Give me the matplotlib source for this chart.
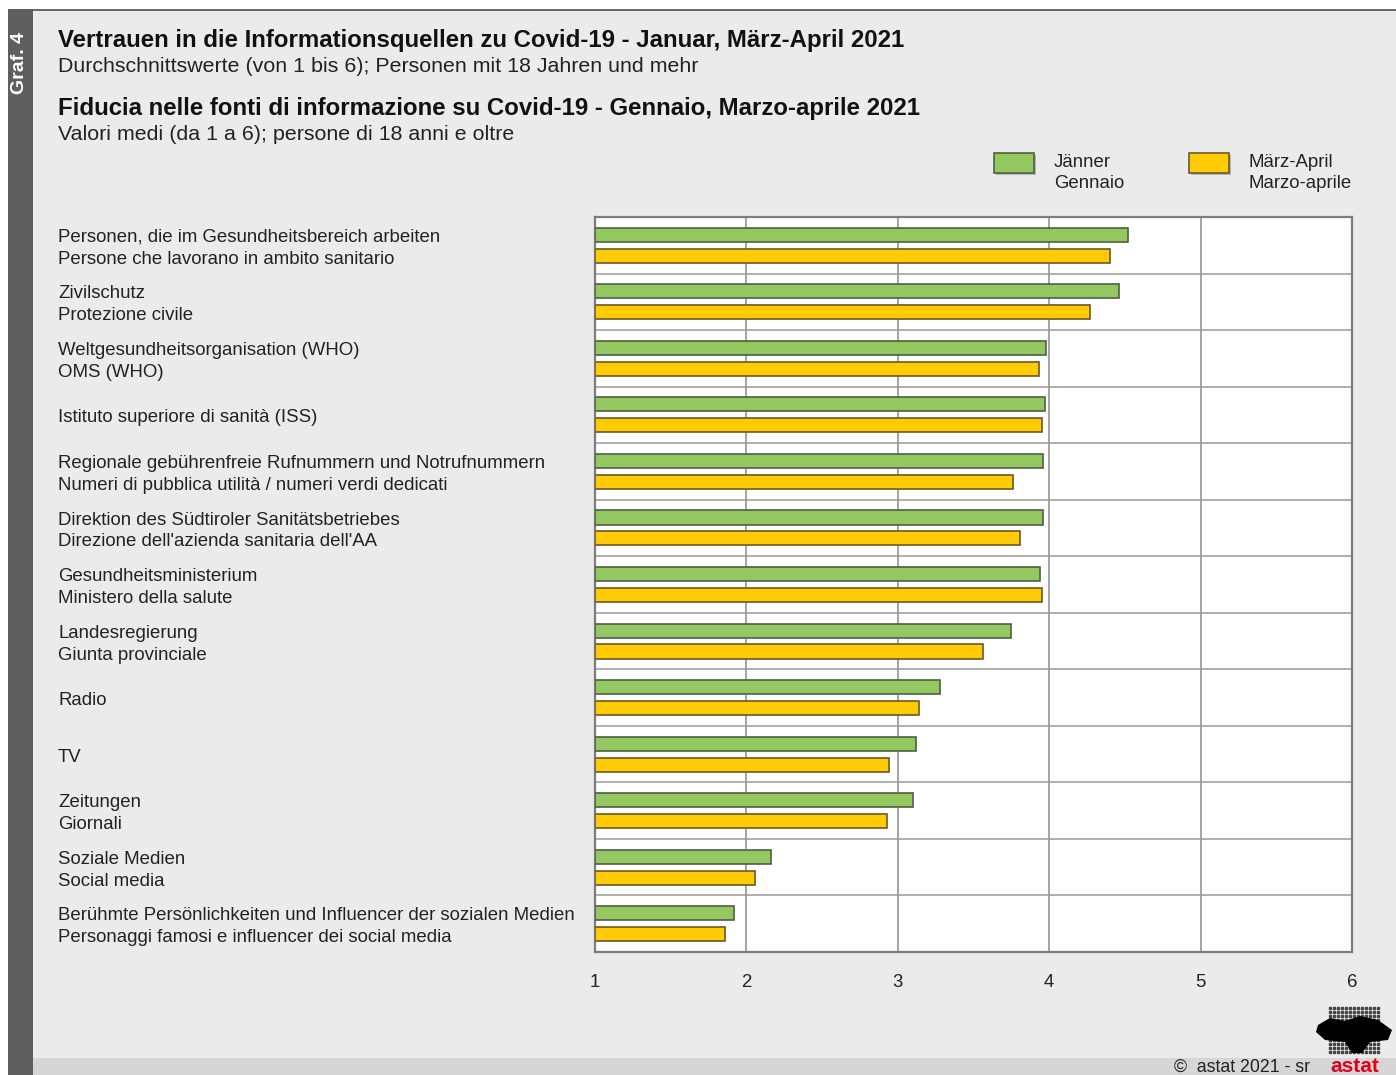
import matplotlib
matplotlib.use("Agg")
import matplotlib.pyplot as plt
from matplotlib.patches import Rectangle, Polygon
from matplotlib.transforms import offset_copy
import numpy as np

plt.rcParams['font.family'] = ['Liberation Sans', 'DejaVu Sans']

categories = [
    "Personen, die im Gesundheitsbereich arbeiten\nPersone che lavorano in ambito sanitario",
    "Zivilschutz\nProtezione civile",
    "Weltgesundheitsorganisation (WHO)\nOMS (WHO)",
    "Istituto superiore di sanità (ISS)",
    "Regionale gebührenfreie Rufnummern und Notrufnummern\nNumeri di pubblica utilità / numeri verdi dedicati",
    "Direktion des Südtiroler Sanitätsbetriebes\nDirezione dell'azienda sanitaria dell'AA",
    "Gesundheitsministerium\nMinistero della salute",
    "Landesregierung\nGiunta provinciale",
    "Radio",
    "TV",
    "Zeitungen\nGiornali",
    "Soziale Medien\nSocial media",
    "Berühmte Persönlichkeiten und Influencer der sozialen Medien\nPersonaggi famosi e influencer dei social media",
]
jan = [4.52, 4.46, 3.98, 3.97, 3.96, 3.96, 3.94, 3.75, 3.28, 3.12, 3.10, 2.16, 1.92]
mar_apr = [4.40, 4.27, 3.93, 3.95, 3.76, 3.81, 3.95, 3.56, 3.14, 2.94, 2.93, 2.06, 1.86]
series_labels = ["Jänner\nGennaio", "März-April\nMarzo-aprile"]
xticks = [1, 2, 3, 4, 5, 6]

W, H = 1396, 1075
fig = plt.figure(figsize=(W / 100, H / 100), dpi=100)
fig.patch.set_facecolor('white')

def fx(px):
    return px / W

def fy(py):
    return 1 - py / H

# background panels
fig.patches.append(Rectangle((fx(8), fy(1075)), fx(1396 - 8), (1075 - 9) / H,
                             transform=fig.transFigure, facecolor='#ebebeb', edgecolor='none', zorder=-3))
fig.patches.append(Rectangle((fx(8), fy(11)), fx(1396 - 8), 2 / H,
                             transform=fig.transFigure, facecolor='#6a6a6a', edgecolor='none', zorder=-2))
fig.patches.append(Rectangle((fx(8), fy(1075)), fx(25), (1075 - 9) / H,
                             transform=fig.transFigure, facecolor='#5f5f5f', edgecolor='none', zorder=-2))
fig.patches.append(Rectangle((fx(33), fy(1075)), fx(1396 - 33), 17 / H,
                             transform=fig.transFigure, facecolor='#d6d6d6', edgecolor='none', zorder=-2))
fig.text(fx(20), fy(63), "Graf. 4", rotation=90, color='white', fontsize=14,
         fontweight='bold', ha='center', va='center')

# titles
fig.text(fx(58), fy(41), "Vertrauen in die Informationsquellen zu Covid-19 - Januar, März-April 2021",
         fontsize=17.3, fontweight='bold', color='#111111', ha='left', va='center')
fig.text(fx(58), fy(67), "Durchschnittswerte (von 1 bis 6); Personen mit 18 Jahren und mehr",
         fontsize=15.4, color='#222222', ha='left', va='center')
fig.text(fx(58), fy(108), "Fiducia nelle fonti di informazione su Covid-19 - Gennaio, Marzo-aprile 2021",
         fontsize=17.3, fontweight='bold', color='#111111', ha='left', va='center')
fig.text(fx(58), fy(134), "Valori medi (da 1 a 6); persone di 18 anni e oltre",
         fontsize=15.4, color='#222222', ha='left', va='center')

green = '#92c85f'
yellow = '#ffcb05'
green_edge = '#4f5f45'
yellow_edge = '#6a5a2a'

# legend
for (px, col, ec, lab) in [(994, green, green_edge, series_labels[0]),
                           (1189, yellow, yellow_edge, series_labels[1])]:
    fig.patches.append(Rectangle((fx(px + 2), fy(175)), fx(40), 20 / H, transform=fig.transFigure,
                                 facecolor='#b5b5b5', edgecolor='none', zorder=-1))
    fig.patches.append(Rectangle((fx(px), fy(173)), fx(40), 20 / H, transform=fig.transFigure,
                                 facecolor=col, edgecolor=ec, linewidth=1.2, zorder=-1))
    fig.text(fx(px + 60), fy(173), lab, fontsize=13.4, color='#222222', ha='left', va='center',
             linespacing=1.38)

# axes
ax = fig.add_axes([fx(595), fy(952), fx(1352 - 595), (952 - 217) / H])
ax.set_zorder(2)
ax.set_facecolor('white')
n = len(categories)
y = np.arange(n)
h = 0.25
off = 0.185
ax.barh(y - off, [v - 1 for v in jan], left=1, height=h, color=green, edgecolor=green_edge,
        linewidth=1.2, zorder=3)
ax.barh(y + off, [v - 1 for v in mar_apr], left=1, height=h, color=yellow, edgecolor=yellow_edge,
        linewidth=1.2, zorder=3)
ax.set_xlim(1, 6)
ax.set_ylim(n - 0.5, -0.5)
for xv in xticks[1:-1]:
    ax.axvline(xv, color='#8c8c8c', linewidth=1.1, zorder=1)
for b in np.arange(n - 1) + 0.5:
    ax.axhline(b, color='#9a9a9a', linewidth=1.1, zorder=1)
for s in ax.spines.values():
    s.set_color('#7d7d7d')
    s.set_linewidth(1.6)
ax.set_xticks(xticks)
ax.set_xticklabels([str(t) for t in xticks], fontsize=13.4, color='#222222')
ax.tick_params(axis='x', length=0, pad=16)
ax.set_yticks(y)
ax.set_yticklabels([])
ax.tick_params(axis='y', length=0)
lab_tr = offset_copy(ax.get_yaxis_transform(), fig=fig, x=0, y=-2.2, units='points')
for i, lab in enumerate(categories):
    ax.text(-537 / 757, i, lab, transform=lab_tr, fontsize=13.4,
            color='#222222', ha='left', va='center', linespacing=1.38, clip_on=False)

# footer
fig.text(fx(1310), fy(1067), "©  astat 2021 - sr", fontsize=12.8, color='#222222', ha='right', va='center')
fig.text(fx(1355), fy(1066), "astat", fontsize=15, fontweight='bold', color='#e3001b', ha='center', va='center',
         zorder=5)
# logo (decorative dotted map)
lx = np.arange(1330, 1382, 4)
ly = np.arange(1008, 1056, 4)
gx, gy = np.meshgrid(lx, ly)
fig.add_artist(plt.Line2D(fx(gx.ravel()), fy(gy.ravel()), linestyle='none', marker='s', markersize=1.5,
                          color='#444444', transform=fig.transFigure, zorder=3))
poly = [(1318, 1025), (1330, 1018), (1345, 1021), (1360, 1016), (1378, 1020), (1392, 1030),
        (1388, 1040), (1370, 1042), (1362, 1053), (1352, 1053), (1345, 1042), (1325, 1040), (1316, 1032)]
fig.patches.append(Polygon([(fx(a), fy(b)) for a, b in poly], closed=True, transform=fig.transFigure,
                           facecolor='black', edgecolor='none', zorder=4))

fig.savefig("out.png", dpi=100)
